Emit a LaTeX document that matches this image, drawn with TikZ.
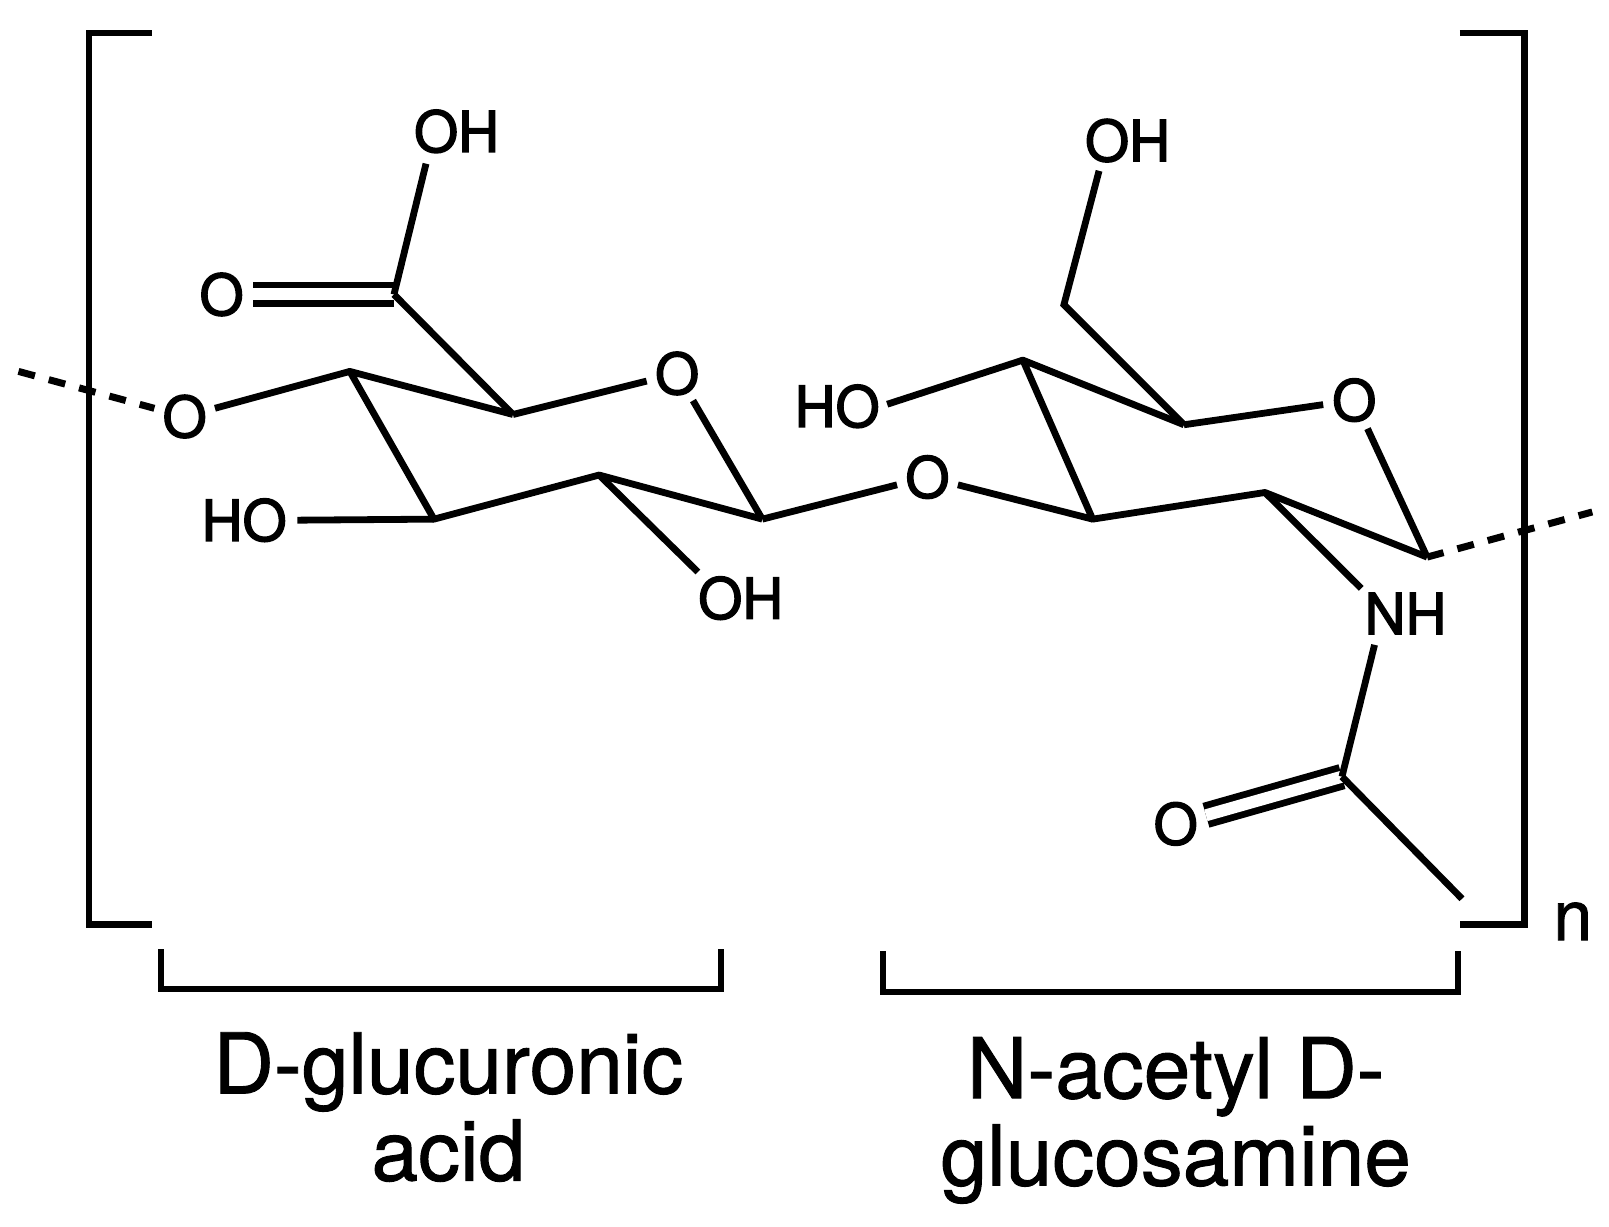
\documentclass[tikz,border=0pt]{standalone}
\usepackage{fontspec}
\setmainfont{TeX Gyre Heros}[FakeBold=2.5]
\newfontfamily\captfont{TeX Gyre Heros}[FakeBold=1.1]
\usetikzlibrary{calc}
\tikzset{
  x=0.513pt,y=-0.513pt,
  bond/.style={line width=3.4pt,line cap=butt,line join=miter,black},
  dbl/.style={bond,double,double distance=6pt},
  dashbond/.style={line width=3.5pt,dash pattern=on 8.5pt off 7.2pt},
  brk/.style={line width=3.1pt,line join=miter},
  oatom/.style={circle,inner sep=0pt,minimum size=31pt,font=\fontsize{28.3}{30}\selectfont},
  lab/.style={inner sep=0pt,font=\fontsize{28.3}{30}\selectfont},
  idx/.style={inner sep=0pt,font=\captfont\fontsize{35}{37}\selectfont},
  captext/.style={inner sep=0pt,align=center,font=\captfont\fontsize{41.9}{43.6}\selectfont},
}
\begin{document}
\begin{tikzpicture}
\useasboundingbox (0,0) rectangle (1568.3,1195);
% ring vertices
\foreach \n/\x/\y in {a1/500/404,a2/341/362,a3/423/506,a4/584/463,a5/743/506,a6/384/287,
  b1/1154/414,b2/997/351,b3/1065/506,b4/1233/480,b5/1391/543,b6/1037/297,b7/1308/757,b8/1425/876,
  dl/18/362,dr/1552/499}
  \coordinate (\n) at (\x,\y);
% atoms
\node[oatom] (o1) at (660,364) {O};
\node[oatom] (o2) at (180,406) {O};
\node[oatom] (o3) at (904,465) {O};
\node[oatom] (o4) at (1320,390) {O};
\node[oatom] (o5) at (216,287) {O};
\node[oatom] (o6) at (1146,803) {O};
\node[lab] (oh1) at (445,128) {OH};
\node[lab] (ho1) at (238,507) {HO};
\node[lab] (oh2) at (722,583) {OH};
\node[lab] (oh3) at (1099,137) {OH};
\node[lab] (ho2) at (816,396) {HO};
\node[lab] (nh) at (1370,598) {NH};
\node[idx] (nn) at (1533,898) {n};
\node[captext] (t1) at (437,1079) {D-glucuronic\\acid};
\node[captext] (t2) at (1146,1092) {N-acetyl D-\\glucosamine};
% double bonds
\draw[dbl] (o5) -- (a6);
\draw[dbl] (o6) -- (b7);
% ring 1
\draw[bond] (a1) -- (o1);
\draw[bond] (o1) -- (a5);
\draw[bond,line join=round] (a5) -- (a4) -- (a3) -- (a2) -- (a1);
\draw[bond] (a1) -- (a6);
\draw[bond] (a6) -- ($(oh1.south west)+(12,10)$);
\draw[bond] (a3) -- ($(ho1.east)+(10,0)$);
\draw[bond] (a4) -- ($(oh2.north west)+(0,-4)$);
\draw[bond] (o2) -- (a2);
\draw[bond] (a5) -- (o3);
\draw[bond] (o3) -- (b3);
% ring 2
\draw[bond] (b1) -- (o4);
\draw[bond] (o4) -- (b5);
\draw[bond,line join=round] (b5) -- (b4) -- (b3) -- (b2) -- (b1);
\draw[bond] (b1) -- (b6) -- ($(oh3.south west)+(14,8)$);
\draw[bond] ($(ho2.east)+(7,-2)$) -- (b2);
\draw[bond] (b4) -- ($(nh.north west)+(-3,-4)$);
\draw[bond] ($(nh.south west)+(10,10)$) -- (b7);
\draw[bond] (b7) -- (b8);
% chain ends
\draw[bond,dashbond] (dl) -- (o2);
\draw[bond,dashbond] (b5) -- (dr);
% brackets
\draw[brk] (148,32) -- (87,32) -- (87,901) -- (148,901);
\draw[brk] (1423,32) -- (1486,32) -- (1486,901) -- (1423,901);
\draw[brk] (157,925) -- (157,964) -- (703,964) -- (703,925);
\draw[brk] (861,927) -- (861,967) -- (1421,967) -- (1421,927);
\end{tikzpicture}
\end{document}
